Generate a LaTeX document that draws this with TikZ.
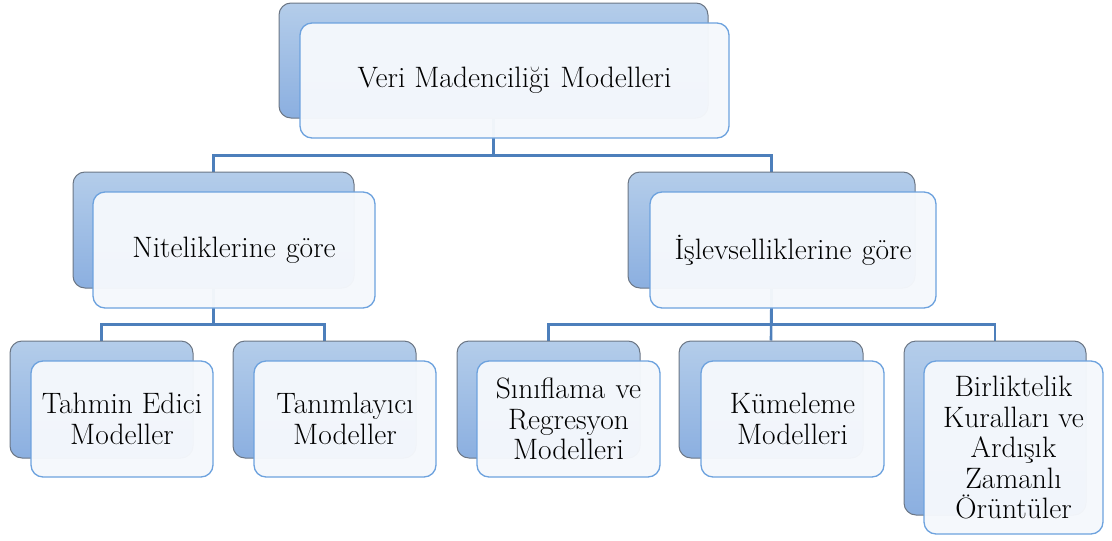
\documentclass[tikz,border=0pt]{standalone}
\usetikzlibrary{backgrounds}
\definecolor{backtop}{HTML}{B4CDEA}
\definecolor{backbot}{HTML}{8BAFE0}
\definecolor{backline}{HTML}{6B7685}
\definecolor{frontfill}{HTML}{F5F8FC}
\definecolor{frontline}{HTML}{6DA2DE}
\definecolor{connline}{HTML}{4D7FBB}
\tikzset{
  backbox/.style={rectangle, rounded corners=12pt, top color=backtop, bottom color=backbot,
    draw=backline, line width=1pt, inner sep=0pt},
  frontbox/.style={rectangle, rounded corners=12pt, fill=frontfill, fill opacity=0.97,
    text opacity=1, draw=frontline, draw opacity=1, line width=1.3pt, inner sep=0pt,
    align=center, font=\rmfamily\fontsize{29.5}{30.5}\selectfont},
  conn/.style={draw=connline, line width=2.6pt},
}
\begin{document}
\begin{tikzpicture}[x=1pt,y=-1pt]
\useasboundingbox (0,0) rectangle (1112,541);
% level 1
\node[backbox, minimum width=429pt, minimum height=115pt] (b0) at (493.5,60.5) {};
\node[frontbox, minimum width=429pt, minimum height=115pt] (f0) at (514.5,80.5) {Veri Madenciliği\hspace{0.35em}Modelleri};
% level 2
\node[backbox, minimum width=281pt, minimum height=116pt] (b1) at (213.5,230) {};
\node[frontbox, minimum width=282pt, minimum height=116pt] (f1) at (234,250) {Niteliklerine\hspace{0.35em}göre};
\node[backbox, minimum width=287pt, minimum height=116pt] (b2) at (771.5,230) {};
\node[frontbox, minimum width=286pt, minimum height=116pt] (f2) at (793,250) {İşlevselliklerine\hspace{0.35em}göre};
% level 3
\node[backbox, minimum width=183pt, minimum height=117pt] (b3) at (101.5,399.5) {};
\node[frontbox, minimum width=182pt, minimum height=116pt] (f3) at (122,419) {Tahmin Edici\\Modeller};
\node[backbox, minimum width=183pt, minimum height=117pt] (b4) at (324.5,399.5) {};
\node[frontbox, minimum width=182pt, minimum height=116pt] (f4) at (345,419) {Tanımlayıcı\\Modeller};
\node[backbox, minimum width=183pt, minimum height=117pt] (b5) at (548.5,399.5) {};
\node[frontbox, minimum width=183pt, minimum height=116pt] (f5) at (568.5,419) {Sınıflama\hspace{0.35em}ve\\Regresyon\\Modelleri};
\node[backbox, minimum width=184pt, minimum height=117pt] (b6) at (771,399.5) {};
\node[frontbox, minimum width=183pt, minimum height=116pt] (f6) at (792.5,419) {Kümeleme\\Modelleri};
\node[backbox, minimum width=182pt, minimum height=174pt] (b7) at (995,428) {};
\node[frontbox, minimum width=179pt, minimum height=173pt] (f7) at (1013.5,447.5) {Birliktelik\\Kuralları ve\\Ardışık\\Zamanlı\\Örüntüler};
% connectors
\begin{scope}[on background layer]
\draw[conn] (b0.south) -- ++(0,37) -| (b1.north);
\draw[conn] (b0.south) -- ++(0,37) -| (b2.north);
\draw[conn] (b1.south) -- ++(0,36) -| (b3.north);
\draw[conn] (b1.south) -- ++(0,36) -| (b4.north);
\draw[conn] (b2.south) -- ++(0,36) -| (b5.north);
\draw[conn] (b2.south) -- (b6.north);
\draw[conn] (b2.south) -- ++(0,36) -| (b7.north);
\end{scope}
\end{tikzpicture}
\end{document}
